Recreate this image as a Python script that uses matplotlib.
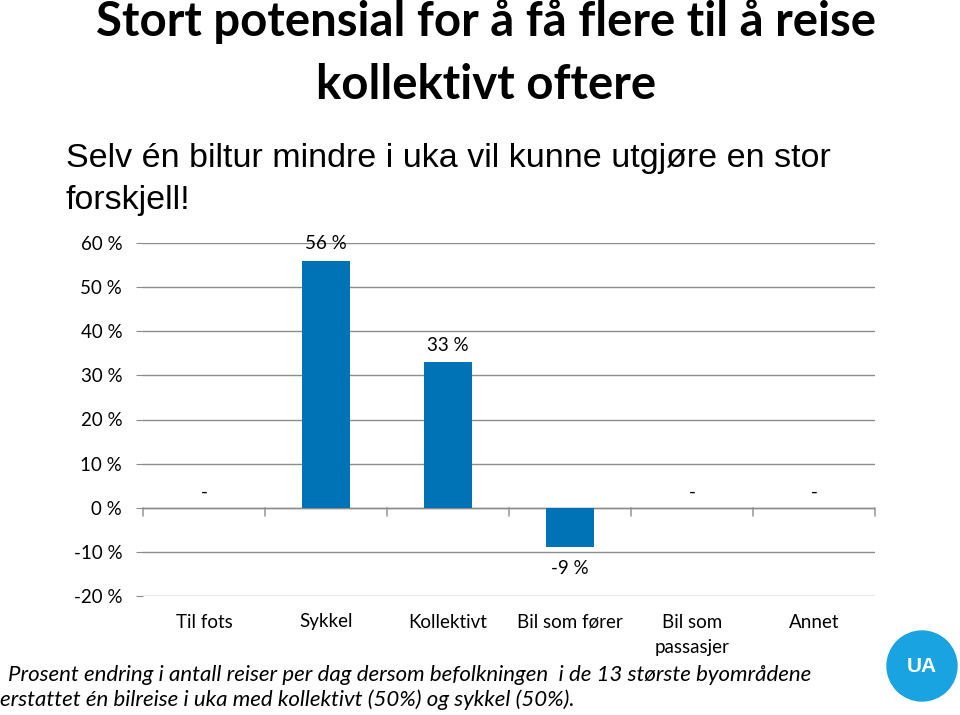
import matplotlib
matplotlib.use("Agg")
import matplotlib.pyplot as plt
from matplotlib.patches import Circle
import matplotlib.transforms as mtransforms

categories = ["Til fots", "Sykkel", "Kollektivt", "Bil som fører", "Bil som\npassasjer", "Annet"]
values = [0, 56, 33, -9, 0, 0]
value_labels = ["-", "56 %", "33 %", "-9 %", "-", "-"]
yticks = [-20, -10, 0, 10, 20, 30, 40, 50, 60]
ytick_labels = ["-20 %", "-10 %", "0 %", "10 %", "20 %", "30 %", "40 %", "50 %", "60 %"]

title_lines = ["Stort potensial for å få flere til å reise", "kollektivt oftere"]
subtitle_lines = ["Selv én biltur mindre i uka vil kunne utgjøre en stor", "forskjell!"]
note1 = "Prosent endring i antall reiser per dag dersom befolkningen  i de 13 største byområdene"
note2 = "erstattet én bilreise i uka med kollektivt (50%) og sykkel (50%)."

BAR = "#0072B6"
GRID = "#8C8C8C"
FONT = "Lato"

W, H = 960, 715
fig = plt.figure(figsize=(W / 100, H / 100), dpi=100)
fig.patch.set_facecolor("white")

def fx(px):
    return px / W

def fy(py):
    return 1 - py / H

# Title
fig.text(fx(486), fy(22), title_lines[0], ha="center", va="center",
         fontsize=34, fontweight="bold", family=FONT, color="black")
fig.text(fx(486), fy(85), title_lines[1], ha="center", va="center",
         fontsize=34, fontweight="bold", family=FONT, color="black")

# Subtitle
fig.text(fx(66), fy(158), subtitle_lines[0], ha="left", va="center",
         fontsize=24.5, family="Liberation Sans", color="black")
fig.text(fx(66), fy(200), subtitle_lines[1], ha="left", va="center",
         fontsize=24.5, family="Liberation Sans", color="black")

# Axes
left, right = 143, 875
top, bottom = 243, 596
ax = fig.add_axes([fx(left), fy(bottom), fx(right - left), (bottom - top) / H])
x = list(range(len(categories)))
ax.bar(x, values, width=0.4, color=BAR, zorder=3)
ax.set_xlim(-0.5, len(categories) - 0.5)
ax.set_ylim(-20, 60)
ax.set_yticks(yticks)
ax.set_yticklabels(ytick_labels, family=FONT, fontsize=13.5)
ax.yaxis.grid(True, color=GRID, linewidth=1.0, zorder=0)
ax.tick_params(axis="y", length=5, color=GRID, pad=10)
for s in ["top", "right", "left", "bottom"]:
    ax.spines[s].set_visible(False)
ax.axhline(0, color=GRID, linewidth=1.0, zorder=2)

# category boundary ticks on zero line
bounds = [i - 0.5 for i in range(len(categories) + 1)]
ax.set_xticks(bounds)
ax.set_xticklabels([])
ax.tick_params(axis="x", length=0)
for b in bounds:
    ax.annotate("", xy=(b, 0), xytext=(0, -6), textcoords="offset points",
                xycoords="data", arrowprops=dict(arrowstyle="-", color=GRID, lw=1.0,
                                                 shrinkA=0, shrinkB=0))

trans = mtransforms.blended_transform_factory(ax.transData, fig.transFigure)
for i, c in enumerate(categories):
    for j, line in enumerate(c.split("\n")):
        ax.text(i, fy(622 + 26 * j), line, transform=trans, ha="center", va="center",
                fontsize=13.5, family=FONT, color="black")

for i, (v, lab) in enumerate(zip(values, value_labels)):
    if v > 0:
        off = 12
    elif v < 0:
        off = -15
    else:
        off = 11
    ax.annotate(lab, xy=(i, v), xytext=(0, off), textcoords="offset points",
                ha="center", va="center", fontsize=13.5, family=FONT, color="black")

# Notes
fig.text(fx(8), fy(675), note1, ha="left", va="center", fontsize=16, family=FONT,
         style="italic", color="black")
fig.text(fx(0), fy(700), note2, ha="left", va="center", fontsize=16, family=FONT,
         style="italic", color="black")

# UA logo
cax = fig.add_axes([0, 0, 1, 1], zorder=5)
cax.set_xlim(0, W)
cax.set_ylim(H, 0)
cax.axis("off")
cax.set_facecolor("none")
cax.add_patch(Circle((922, 666), 35, color="#1AA3E1"))
cax.text(922, 667, "UA", ha="center", va="center", color="white", fontsize=15,
         fontweight="bold", family="Liberation Sans")

fig.savefig("out.png", dpi=100)
